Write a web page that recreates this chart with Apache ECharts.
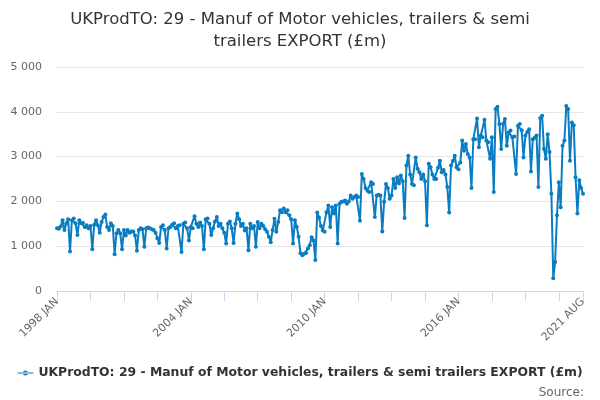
<!DOCTYPE html>
<html>
<head>
<meta charset="utf-8">
<script src="https://cdn.jsdelivr.net/npm/echarts@6/dist/echarts.min.js"></script>
<style>
  html, body { margin: 0; padding: 0; background: #fff; }
  #main { width: 600px; height: 400px; }
</style>
</head>
<body>
<div id="main"></div>
<script>
var seriesName = 'UKProdTO: 29 - Manuf of Motor vehicles, trailers & semi trailers EXPORT (£m)';
var years = [1998, 1999, 2000, 2001, 2002, 2003, 2004, 2005, 2006, 2007, 2008, 2009,
    2010, 2011, 2012, 2013, 2014, 2015, 2016, 2017, 2018, 2019, 2020, 2021];
var monthNames = ['JAN', 'FEB', 'MAR', 'APR', 'MAY', 'JUN', 'JUL', 'AUG', 'SEP', 'OCT', 'NOV', 'DEC'];
var lastMonth = 'AUG';
var yTicks = [0, 1000, 2000, 3000, 4000, 5000];

// monthly values, one row per year (£m)
var exportValues = [
    1400, 1390, 1440, 1580, 1360, 1510, 1600, 880, 1580, 1620, 1510, 1250,
    1580, 1510, 1520, 1430, 1470, 1400, 1450, 930, 1480, 1580, 1470, 1300,
    1540, 1650, 1710, 1430, 1360, 1510, 1450, 820, 1290, 1360, 1290, 930,
    1360, 1240, 1360, 1300, 1330, 1330, 1240, 900, 1360, 1400, 1380, 990,
    1400, 1420, 1400, 1380, 1360, 1300, 1180, 1070, 1430, 1470, 1360, 950,
    1400, 1430, 1480, 1510, 1400, 1450, 1470, 870, 1500, 1530, 1400, 1130,
    1430, 1400, 1670, 1500, 1430, 1530, 1450, 930, 1600, 1620, 1500, 1250,
    1400, 1550, 1650, 1450, 1500, 1400, 1300, 1060, 1500, 1550, 1400, 1070,
    1500, 1730, 1600, 1450, 1500, 1350, 1400, 910, 1500, 1400, 1450, 990,
    1540, 1400, 1500, 1450, 1380, 1320, 1210, 1090, 1360, 1610, 1320, 1540,
    1800, 1760, 1840, 1760, 1800, 1690, 1600, 1060, 1580, 1430, 1210, 840,
    800, 830, 850, 950, 1020, 1200, 1130, 690, 1750, 1640, 1450, 1350,
    1320, 1760, 1910, 1430, 1870, 1730, 1910, 1060, 1950, 1990, 2000, 2020,
    1950, 2000, 2130, 2060, 2100, 2130, 2100, 1570, 2610, 2500, 2300, 2240,
    2210, 2430, 2390, 1650, 2130, 2150, 2130, 1330, 1990, 2390, 2300, 2060,
    2130, 2500, 2300, 2540, 2400, 2580, 2450, 1630, 2800, 3020, 2600, 2390,
    2360, 2980, 2730, 2650, 2500, 2600, 2450, 1470, 2840, 2760, 2600, 2500,
    2500, 2750, 2910, 2650, 2700, 2600, 2320, 1750, 2800, 2900, 3020, 2760,
    2720, 2870, 3360, 3130, 3280, 3060, 2980, 2300, 3390, 3390, 3850, 3210,
    3470, 3430, 3820, 3360, 3320, 2950, 3430, 2210, 4060, 4110, 3730, 3170,
    3730, 3840, 3240, 3540, 3580, 3430, 3450, 2610, 3690, 3730, 3590, 2980,
    3470, 3550, 3610, 2670, 3390, 3420, 3470, 2320, 3860, 3910, 3170, 2950,
    3500, 3100, 2170, 282, 650, 1690, 2430, 1870, 3240, 3360, 4130, 4060,
    2910, 3760, 3700, 2540, 1730, 2470, 2300, 2170
];

function buildCategories() {
    var cats = [];
    for (var i = 0; i < years.length; i++) {
        for (var m = 0; m < 12; m++) {
            cats.push(years[i] + ' ' + monthNames[m]);
            if (i === years.length - 1 && monthNames[m] === lastMonth) return cats;
        }
    }
    return cats;
}

function build() {
    var myChart = echarts.init(document.getElementById('main'));
    var categories = buildCategories();
    var last = categories.length - 1;
    var font = 'DejaVu Sans, Verdana, sans-serif';

    var option = {
        textStyle: { fontFamily: font },
        animation: false,
        title: [{
            text: 'UKProdTO: 29 - Manuf of Motor vehicles, trailers & semi\ntrailers EXPORT (£m)',
            left: 'center',
            top: 4,
            textStyle: { fontSize: 16.5, fontWeight: 'normal', color: '#333333', lineHeight: 22, fontFamily: font }
        }, {
            text: 'Source:',
            right: 11,
            top: 382,
            textStyle: { fontSize: 12, fontWeight: 'normal', color: '#666666', fontFamily: font }
        }],
        legend: {
            bottom: 16,
            left: 'center',
            itemWidth: 16,
            itemHeight: 6,
            itemGap: 6,
            textStyle: { fontSize: 12.4, fontWeight: 'bold', color: '#333333', fontFamily: font },
            data: [{ name: seriesName, icon: 'path://M0,2.5 L16,2.5 L16,3.5 L0,3.5 Z M8,3 m-2.5,0 a2.5,2.5 0 1,0 5,0 a2.5,2.5 0 1,0 -5,0' }]
        },
        grid: { left: 57, right: 17, top: 67, bottom: 109, containLabel: false },
        xAxis: {
            type: 'category',
            boundaryGap: false,
            data: categories,
            axisLine: { lineStyle: { color: '#ccd6eb' } },
            axisTick: {
                length: 10,
                lineStyle: { color: '#ccd6eb' },
                interval: function (idx) { return idx % 18 === 0 || idx === last; }
            },
            axisLabel: {
                rotate: 45,
                color: '#666666',
                fontSize: 11,
                margin: 9,
                interval: function (idx) { return idx % 72 === 0 || idx === last; }
            },
            splitLine: { show: false }
        },
        yAxis: {
            type: 'value',
            min: yTicks[0],
            max: yTicks[yTicks.length - 1],
            interval: 1000,
            axisLine: { show: false },
            axisTick: { show: false },
            axisLabel: {
                color: '#666666',
                fontSize: 11,
                margin: 15,
                formatter: function (v) { return String(v).replace(/\B(?=(\d{3})+(?!\d))/g, ' '); }
            },
            splitLine: { lineStyle: { color: '#e6e6e6' } }
        },
        series: [{
            name: seriesName,
            type: 'line',
            data: exportValues,
            color: '#0a7dc2',
            symbol: 'circle',
            symbolSize: 4,
            showAllSymbol: true,
            lineStyle: { width: 2 }
        }]
    };

    myChart.setOption(option);
}

build();
</script>
</body>
</html>
